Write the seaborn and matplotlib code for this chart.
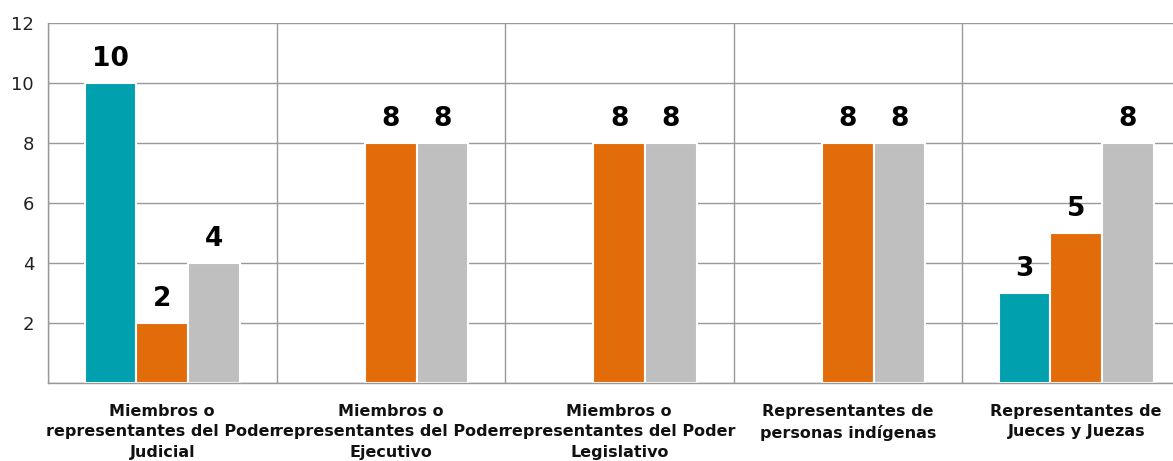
import matplotlib
matplotlib.use("Agg")
import matplotlib.pyplot as plt
import numpy as np
import pandas as pd
import seaborn as sns

# data
categories = [
    "Miembros o\nrepresentantes del Poder\nJudicial",
    "Miembros o\nrepresentantes del Poder\nEjecutivo",
    "Miembros o\nrepresentantes del Poder\nLegislativo",
    "Representantes de\npersonas indígenas",
    "Representantes de\nJueces y Juezas",
]
series_names = ["Serie 1", "Serie 2", "Serie 3"]
serie_1 = [10, np.nan, np.nan, np.nan, 3]
serie_2 = [2, 8, 8, 8, 5]
serie_3 = [4, 8, 8, 8, 8]
colors = ["#00A0AE", "#E36C0A", "#BFBFBF"]

rows = []
for name, vals in zip(series_names, [serie_1, serie_2, serie_3]):
    for cat, v in zip(categories, vals):
        rows.append({"categoria": cat, "serie": name, "valor": v})
df = pd.DataFrame(rows).dropna()

sns.set_style("white")
plt.rcParams["font.family"] = ["DejaVu Sans"]

fig = plt.figure(figsize=(11.73, 4.61), dpi=100)
ax = fig.add_axes([48 / 1173, 78 / 461, 1142.5 / 1173, 360 / 461])

sns.barplot(
    data=df,
    x="categoria",
    y="valor",
    hue="serie",
    order=categories,
    hue_order=series_names,
    palette=colors,
    saturation=1,
    width=0.68,
    edgecolor="white",
    linewidth=1.5,
    legend=False,
    ax=ax,
)

for cont in ax.containers:
    ax.bar_label(cont, fmt="%d", padding=8, fontsize=19, fontweight="bold", color="black")

ax.set_xlim(-0.5, 4.5)
ax.set_ylim(0, 12)
ax.set_yticks(range(0, 13, 2))
ax.set_yticklabels([""] + [str(v) for v in range(2, 13, 2)], fontsize=13, color="#222222")

ax.set_xticks(range(len(categories)))
ax.set_xticklabels(categories, fontsize=11.5, fontweight="bold", color="#111111", linespacing=1.45)
ax.set_xticks(np.arange(-0.5, 5, 1), minor=True)
ax.tick_params(axis="x", which="major", length=0, pad=15)
ax.tick_params(axis="x", which="minor", length=7, color="#999999", width=1)
ax.tick_params(axis="y", length=6, color="#999999", width=1, pad=4)

ax.grid(axis="y", color="#999999", linewidth=1)
ax.grid(axis="x", which="minor", color="#999999", linewidth=1)
ax.set_axisbelow(True)

for side in ["top", "right"]:
    ax.spines[side].set_visible(False)
for side in ["left", "bottom"]:
    ax.spines[side].set_color("#999999")
    ax.spines[side].set_linewidth(1)

ax.set_xlabel("")
ax.set_ylabel("")

fig.savefig("out.png", dpi=100)
